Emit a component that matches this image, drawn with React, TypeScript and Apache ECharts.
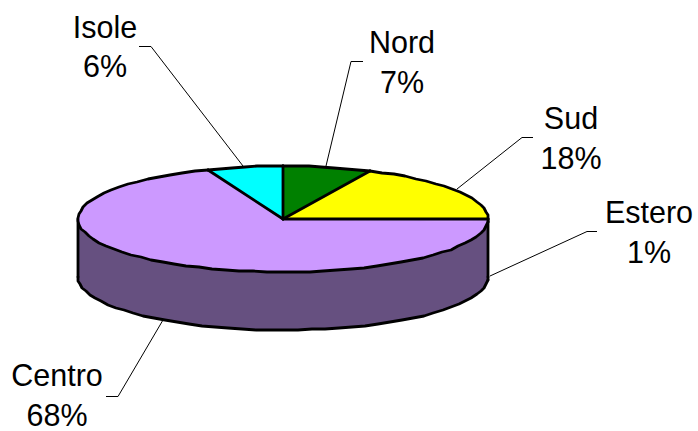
import React, { useEffect, useRef } from "react";
import * as echarts from "echarts";

const categories = ["Nord", "Sud", "Estero", "Centro", "Isole"];
const shares = [7, 18, 1, 68, 6];
const colors = ["#008000", "#FFFF00", "#CC99FF", "#CC99FF", "#00FFFF"];
const wallColor = "#665080";

const CX = 283;
const CY = 219;
const RX = 205;
const RY = 53;
const DEPTH = 58;
const FONT = '30.5px "Liberation Sans", Arial, sans-serif';
const LINE_GAP = 19.75;

const labelCenters = [
  [402, 62],
  [571, 138],
  [649, 232],
  [57, 395],
  [105, 46.5],
];
const leaders = [
  [[363, 61.5], [351, 61.5], [326, 166]],
  [[533, 137.5], [522, 137.5], [457, 189]],
  [[597, 231.5], [587, 231.5], [490, 276]],
  [[106, 396.5], [118, 396.5], [163, 320]],
  [[139, 46.5], [151, 46.5], [243, 166]],
];

function rim(deg: number, dy = 0): number[] {
  const r = (deg * Math.PI) / 180;
  return [
    Math.round(CX + RX * Math.sin(r)),
    Math.round(CY - RY * Math.cos(r) + dy),
  ];
}

function arcPoints(a0: number, a1: number, dy = 0): number[][] {
  const n = Math.max(1, Math.ceil(Math.abs(a1 - a0) / 4));
  const pts: number[][] = [];
  for (let i = 0; i <= n; i++) pts.push(rim(a0 + ((a1 - a0) * i) / n, dy));
  return pts;
}

const total = shares.reduce((a, b) => a + b, 0);
const starts: number[] = [];
shares.reduce((acc, v, i) => {
  starts[i] = (acc / total) * 360;
  return acc + v;
}, 0);

const STROKE = { stroke: "#000", lineWidth: 2.8, lineJoin: "round", lineCap: "round", fill: "none" };

function line(points: number[][], z2: number) {
  return { type: "polyline", z2, shape: { points }, style: STROKE };
}

function labelText(text: string, x: number, y: number) {
  return {
    type: "text",
    silent: true,
    z: 10,
    x,
    y,
    style: {
      text,
      font: FONT,
      lineHeight: 28,
      fill: "#000",
      align: "center",
      verticalAlign: "middle",
    },
  };
}

export default function App() {
  const ref = useRef<HTMLDivElement>(null);

  useEffect(() => {
    const chart = echarts.init(ref.current!, undefined, { renderer: "svg" });
    chart.setOption({
      animation: false,
      backgroundColor: "#fff",
      series: [
        {
          type: "custom",
          coordinateSystem: "none",
          silent: true,
          data: shares.map((v, i) => ({ name: categories[i], value: [v] })),
          renderItem: (params: any, api: any) => {
            const i = params.dataIndex;
            const a0 = starts[i];
            const a1 = a0 + (api.value(0) / total) * 360;
            const children: any[] = [];
            const w0 = Math.max(a0, 90);
            const w1 = Math.min(a1, 270);
            if (w1 > w0) {
              children.push({
                type: "polygon",
                z2: 1,
                shape: {
                  points: [...arcPoints(w0, w1), ...arcPoints(w1, w0, DEPTH)],
                },
                style: { fill: wallColor, stroke: wallColor, lineWidth: 1 },
              });
              children.push(line(arcPoints(w0, w1, DEPTH), 2));
              if (w0 === 90) children.push(line([rim(90), rim(90, DEPTH)], 2));
              if (w1 === 270) children.push(line([rim(270), rim(270, DEPTH)], 2));
            }
            children.push({
              type: "polygon",
              z2: 3,
              shape: { points: [[CX, CY], ...arcPoints(a0, a1)] },
              style: { fill: colors[i], stroke: colors[i], lineWidth: 0.5 },
            });
            children.push(line(arcPoints(a0, a1), 4));
            const prev = colors[(i + colors.length - 1) % colors.length];
            if (prev !== colors[i]) {
              children.push(line([[CX, CY], rim(a0)], 4));
            }
            return { type: "group", children };
          },
        },
      ],
      graphic: {
        elements: [
          ...leaders.map((points) => ({
            type: "polyline",
            silent: true,
            z: 1,
            shape: { points },
            style: { stroke: "#000", lineWidth: 1, fill: "none" },
          })),
          ...categories.flatMap((name, i) => [
            labelText(name, labelCenters[i][0], labelCenters[i][1] - LINE_GAP),
            labelText(
              `${Math.round((shares[i] / total) * 100)}%`,
              labelCenters[i][0],
              labelCenters[i][1] + LINE_GAP
            ),
          ]),
        ],
      },
    });
    return () => chart.dispose();
  }, []);

  return (
    <div
      ref={ref}
      style={{ position: "fixed", left: 0, top: 0, width: 698, height: 431 }}
    />
  );
}
